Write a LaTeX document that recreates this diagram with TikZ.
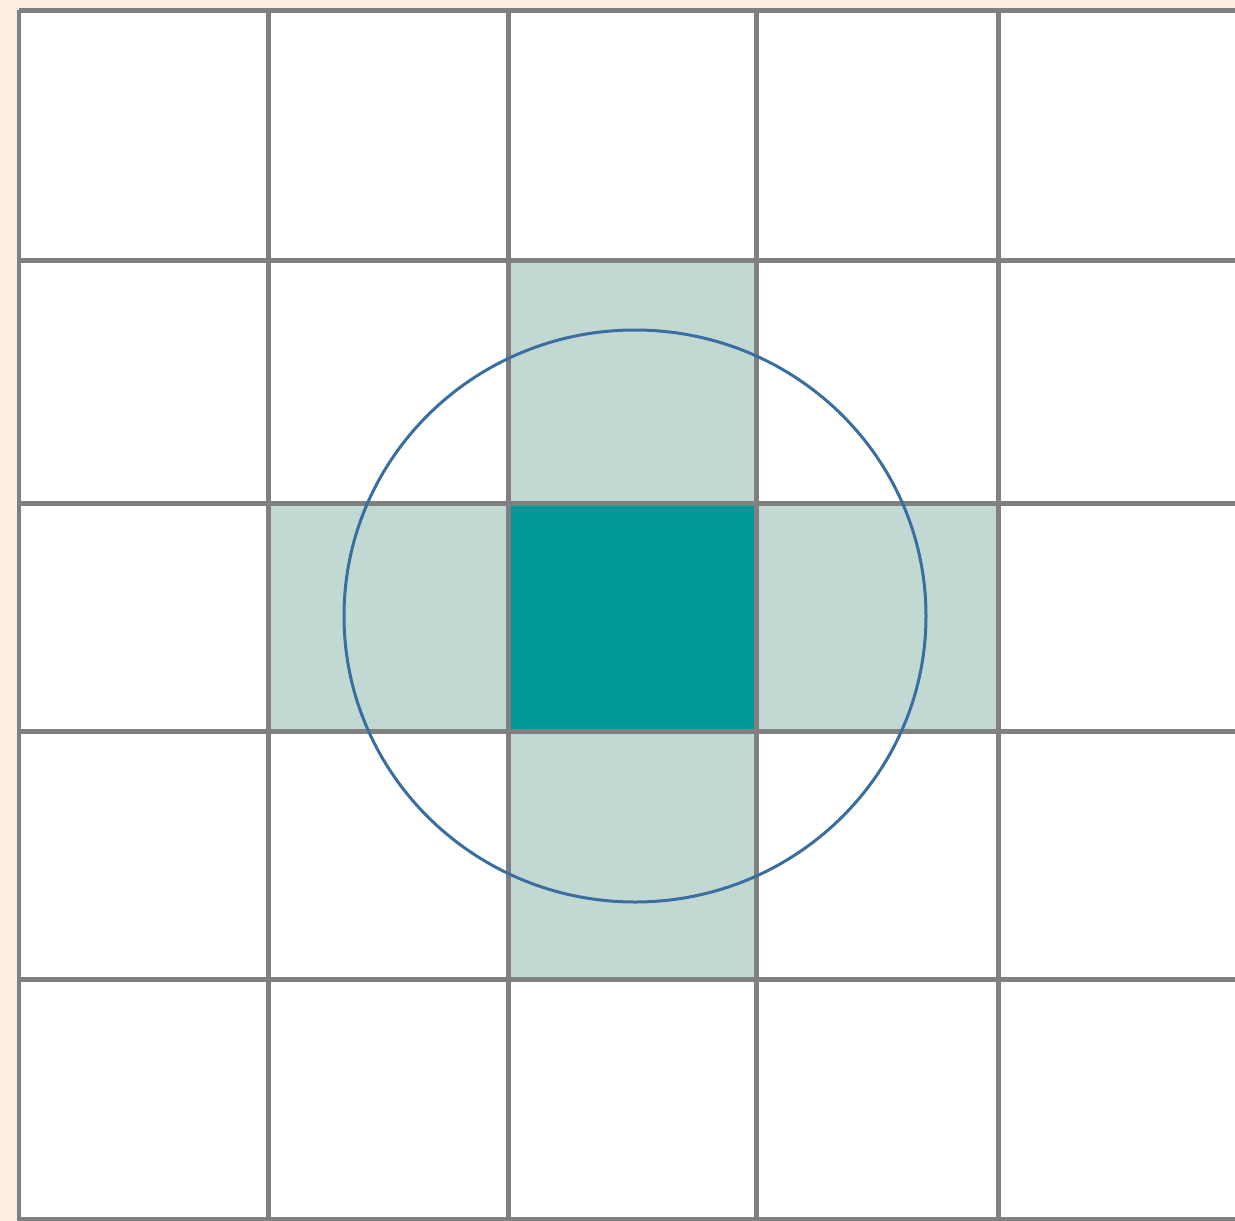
\documentclass[tikz,border=0pt]{standalone}
\usepackage{tikz}

\definecolor{peach}{RGB}{253,238,228}
\definecolor{gridgray}{RGB}{128,128,128}
\definecolor{paleteal}{RGB}{194,217,211}
\definecolor{deepteal}{RGB}{0,153,152}
\definecolor{ringblue}{RGB}{58,110,160}

\begin{document}
\begin{tikzpicture}[x = 0.02cm, y = -0.02cm]
\useasboundingbox (0,0) rectangle (1235,1221);
\fill[peach] (0,0) rectangle (1235,1221);
\fill[white] (19,10) rectangle (1235,1221);
% neighbour cells
\fill[paleteal] (508,260) rectangle (756,503);
\fill[paleteal] (268,503) rectangle (508,731);
\fill[paleteal] (756,503) rectangle (998,731);
\fill[paleteal] (508,731) rectangle (756,979);
% centre cell
\fill[deepteal] (508,503) rectangle (756,731);
% grid
\draw[gridgray, line width=0.1cm] (19,10) -- (19,1221);
\draw[gridgray, line width=0.1cm] (268,10) -- (268,1221);
\draw[gridgray, line width=0.1cm] (508,10) -- (508,1221);
\draw[gridgray, line width=0.1cm] (756,10) -- (756,1221);
\draw[gridgray, line width=0.1cm] (998,10) -- (998,1221);
\draw[gridgray, line width=0.1cm] (19,10) -- (1235,10);
\draw[gridgray, line width=0.1cm] (19,260) -- (1235,260);
\draw[gridgray, line width=0.1cm] (19,503) -- (1235,503);
\draw[gridgray, line width=0.1cm] (19,731) -- (1235,731);
\draw[gridgray, line width=0.1cm] (19,979) -- (1235,979);
\draw[gridgray, line width=0.1cm] (19,1219) -- (1235,1219);
% radius
\draw[ringblue, line width=0.06cm] (635,616) ellipse [x radius=291, y radius=286];
\end{tikzpicture}
\end{document}
